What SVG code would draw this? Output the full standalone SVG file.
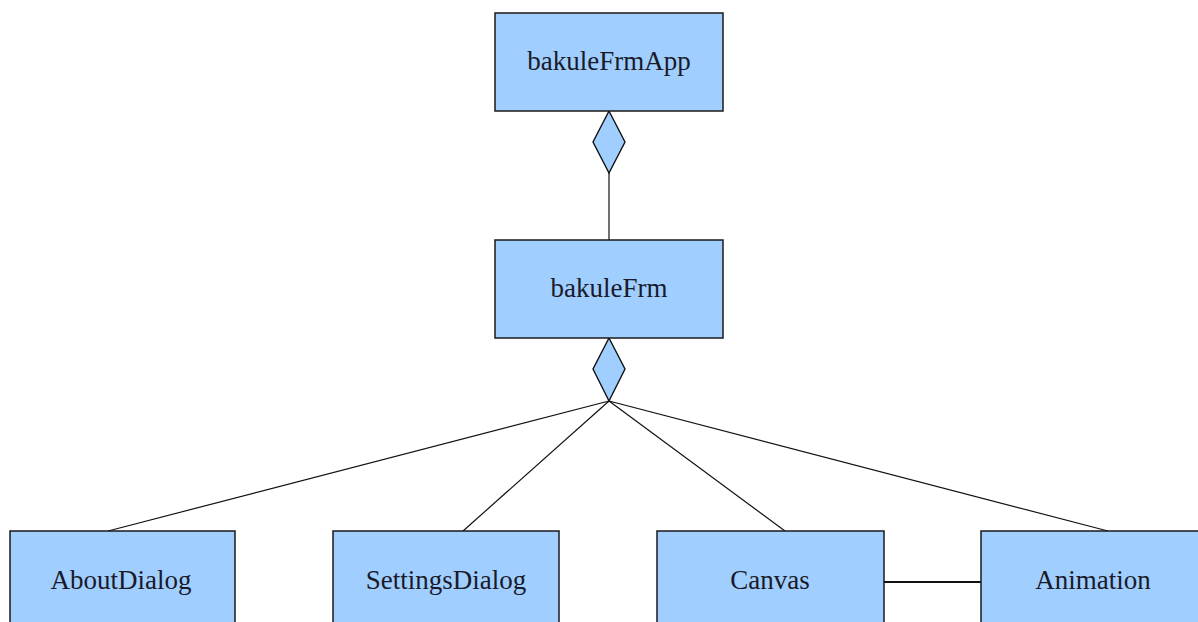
<svg xmlns="http://www.w3.org/2000/svg" width="1198" height="622" viewBox="0 0 1198 622">
<style>
.box{fill:#a0cfff;stroke:#1a1a1a;stroke-width:1.5}
.dia{fill:#a0cfff;stroke:#111;stroke-width:1.4}
.lbl{font-family:"Liberation Serif","Times New Roman",serif;font-size:27px;fill:#1a1a2a;text-anchor:middle}
.ln{stroke:#111;stroke-width:1.2;fill:none}
.assoc{stroke:#111;stroke-width:1.8;fill:none}
</style>
<rect width="1198" height="622" fill="#fff"/>
<g id="connectors">
<line class="ln" x1="609" y1="173" x2="609" y2="240"/>
<line class="ln" x1="609" y1="401" x2="108" y2="531"/>
<line class="ln" x1="609" y1="401" x2="463" y2="531"/>
<line class="ln" x1="609" y1="401" x2="785" y2="531"/>
<line class="ln" x1="609" y1="401" x2="1108" y2="531"/>
<line class="assoc" x1="884" y1="582" x2="981" y2="582"/>
<polygon class="dia" points="609,111 625,142 609,173 593,142"/>
<polygon class="dia" points="609,338 625,369 609,401 593,369"/>
</g>
<g id="bakuleFrmApp">
<rect class="box" x="495" y="13" width="228" height="98"/>
<text class="lbl" x="609" y="70">bakuleFrmApp</text>
</g>
<g id="bakuleFrm">
<rect class="box" x="495" y="240" width="228" height="98"/>
<text class="lbl" x="609" y="297">bakuleFrm</text>
</g>
<g id="AboutDialog">
<rect class="box" x="10" y="531" width="225" height="110"/>
<text class="lbl" x="121" y="589">AboutDialog</text>
</g>
<g id="SettingsDialog">
<rect class="box" x="333" y="531" width="226" height="110"/>
<text class="lbl" x="446" y="589">SettingsDialog</text>
</g>
<g id="Canvas">
<rect class="box" x="657" y="531" width="227" height="110"/>
<text class="lbl" x="770" y="589">Canvas</text>
</g>
<g id="Animation">
<rect class="box" x="981" y="531" width="230" height="110"/>
<text class="lbl" x="1093" y="589">Animation</text>
</g>
</svg>
